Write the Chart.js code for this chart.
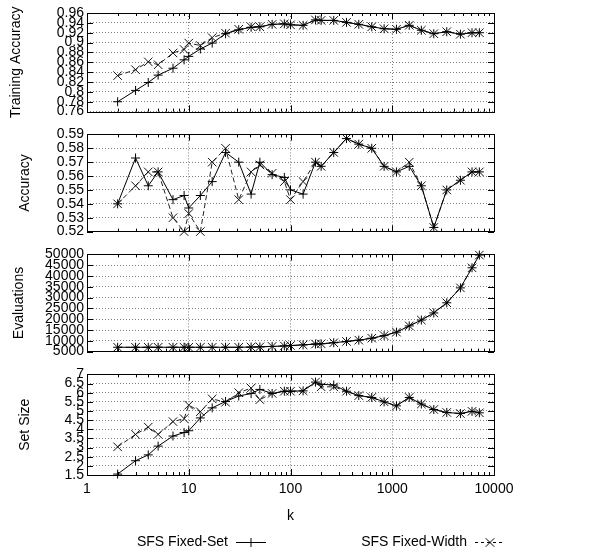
<!DOCTYPE html>
<html>
<head>
<meta charset="utf-8">
<script src="https://cdn.jsdelivr.net/npm/chart.js@4.4.1/dist/chart.umd.min.js"></script>
<style>
  html, body { margin: 0; padding: 0; background: #fff; }
  #wrap { position: relative; width: 605px; height: 553px; }
  #wrap canvas { position: absolute; left: 0; }
</style>
</head>
<body>
<div id="wrap">
  <canvas id="c1" width="605" height="123" style="top:0px"></canvas>
  <canvas id="c2" width="605" height="120" style="top:123px"></canvas>
  <canvas id="c3" width="605" height="120" style="top:243px"></canvas>
  <canvas id="c4" width="605" height="190" style="top:363px"></canvas>
</div>
<script>
// k values (shared x positions)
const kValues = [2, 3, 4, 5, 7, 9, 10, 13, 17, 23, 31, 41, 50, 66, 87, 100, 133, 176, 200, 266,
    355, 469, 629, 832, 1100, 1469, 1932, 2560, 3433, 4676, 6080, 7180];
const kTicks = [1, 10, 100, 1000, 10000];

// Training Accuracy
const trainSet = [0.780, 0.803, 0.819, 0.834, 0.848, 0.865, 0.872, 0.887, 0.899, 0.918, 0.926, 0.931,
    0.932, 0.937, 0.938, 0.936, 0.935, 0.946, 0.945, 0.945, 0.941, 0.937, 0.932, 0.928, 0.927, 0.935,
    0.925, 0.918, 0.922, 0.917, 0.920, 0.920];
const trainWidth = [0.833, 0.845, 0.861, 0.855, 0.879, 0.886, 0.899, 0.894, 0.910, 0.919, 0.927, 0.932,
    0.932, 0.937, 0.938, 0.936, 0.935, 0.946, 0.945, 0.945, 0.941, 0.937, 0.932, 0.928, 0.927, 0.935,
    0.925, 0.918, 0.922, 0.917, 0.920, 0.920];
const trainTicks = [0.76, 0.78, 0.8, 0.82, 0.84, 0.86, 0.88, 0.9, 0.92, 0.94, 0.96];

// Accuracy
const accSet = [0.540, 0.573, 0.553, 0.563, 0.543, 0.546, 0.537, 0.546, 0.556, 0.577, 0.570, 0.547,
    0.570, 0.561, 0.559, 0.550, 0.547, 0.570, 0.567, 0.577, 0.587, 0.583, 0.580, 0.567, 0.563, 0.567,
    0.553, 0.523, 0.550, 0.557, 0.563, 0.563];
const accWidth = [0.540, 0.553, 0.563, 0.563, 0.530, 0.520, 0.533, 0.520, 0.570, 0.580, 0.543, 0.563,
    0.568, 0.562, 0.556, 0.543, 0.556, 0.570, 0.567, 0.577, 0.587, 0.583, 0.580, 0.567, 0.563, 0.570,
    0.553, 0.523, 0.550, 0.557, 0.563, 0.563];
const accTicks = [0.52, 0.53, 0.54, 0.55, 0.56, 0.57, 0.58, 0.59];

// Evaluations
const evalSet = [7000, 7000, 7000, 7000, 7000, 7000, 7000, 7000, 7000, 7000, 7000, 7100, 7200, 7400,
    7600, 7800, 8100, 8500, 8600, 9100, 9700, 10300, 11200, 12400, 14000, 16900, 19600, 22900, 27600,
    34500, 43800, 49700];
const evalWidth = [7000, 7000, 7000, 7000, 7000, 7000, 7000, 7000, 7000, 7000, 7000, 7100, 7200, 7400,
    7600, 7800, 8100, 8500, 8600, 9100, 9700, 10300, 11200, 12400, 14000, 16900, 19600, 22900, 27600,
    34500, 43800, 49700];
const evalTicks = [5000, 10000, 15000, 20000, 25000, 30000, 35000, 40000, 45000, 50000];

// Set Size
const sizeSet = [1.55, 2.28, 2.60, 3.08, 3.63, 3.82, 3.92, 4.62, 5.17, 5.52, 5.82, 5.95, 6.18, 5.96,
    6.08, 6.08, 6.10, 6.58, 6.46, 6.42, 6.08, 5.84, 5.74, 5.50, 5.28, 5.74, 5.38, 5.08, 4.92, 4.86,
    4.98, 4.90];
const sizeWidth = [3.04, 3.72, 4.12, 3.72, 4.42, 4.58, 5.32, 4.96, 5.66, 5.48, 6.00, 6.25, 5.62, 5.96,
    6.08, 6.08, 6.10, 6.58, 6.32, 6.32, 6.08, 5.84, 5.74, 5.50, 5.28, 5.74, 5.38, 5.08, 4.92, 4.86,
    4.98, 4.90];
const sizeTicks = [1.5, 2, 2.5, 3, 3.5, 4, 4.5, 5, 5.5, 6, 6.5, 7];

const seriesNames = ['SFS Fixed-Set', 'SFS Fixed-Width'];

Chart.defaults.font.family = '"Liberation Sans", Arial, sans-serif';
Chart.defaults.font.size = 14;
Chart.defaults.color = '#000';

const PLOT_LEFT = 87;
const PLOT_RIGHT = 494;

function makeDatasets(setVals, widthVals) {
    return [
        {
            label: seriesNames[0],
            data: kValues.map((k, i) => ({ x: k, y: setVals[i] })),
            borderColor: '#000',
            borderWidth: 1,
            pointStyle: 'cross',
            pointRadius: 4.5,
            pointBorderColor: '#000',
            pointBorderWidth: 1,
            fill: false,
            clip: false,
        },
        {
            label: seriesNames[1],
            data: kValues.map((k, i) => ({ x: k, y: widthVals[i] })),
            borderColor: '#222',
            borderWidth: 1,
            borderDash: [5, 3],
            pointStyle: 'crossRot',
            pointRadius: 6,
            pointBorderColor: '#111',
            pointBorderWidth: 1,
            fill: false,
            clip: false,
        },
    ];
}

// frame + inward tick marks, gnuplot style
const framePlugin = {
    id: 'frame',
    afterDatasetsDraw(chart) {
        const { ctx, chartArea: a, scales } = chart;
        ctx.save();
        ctx.strokeStyle = '#000';
        ctx.lineWidth = 1;
        ctx.setLineDash([]);
        ctx.beginPath();
        // y ticks, left & right
        scales.y.ticks.forEach(t => {
            const py = Math.round(scales.y.getPixelForValue(t.value)) + 0.5;
            ctx.moveTo(a.left, py); ctx.lineTo(a.left + 6, py);
            ctx.moveTo(a.right, py); ctx.lineTo(a.right - 6, py);
        });
        // x major and minor ticks, top & bottom
        for (let d = 1; d < 10000; d *= 10) {
            for (let m = 1; m <= 10; m++) {
                const px = Math.round(scales.x.getPixelForValue(d * m)) + 0.5;
                const len = (m === 1 || m === 10) ? 6 : 3;
                ctx.moveTo(px, a.bottom); ctx.lineTo(px, a.bottom - len);
                ctx.moveTo(px, a.top); ctx.lineTo(px, a.top + len);
            }
        }
        ctx.stroke();
        ctx.strokeRect(Math.round(a.left) + 0.5, Math.round(a.top) + 0.5,
            Math.round(a.right - a.left), Math.round(a.bottom - a.top));
        ctx.restore();
    },
};

// legend below the bottom panel: text, then line sample
const legendPlugin = {
    id: 'bottomLegend',
    afterDraw(chart) {
        const { ctx } = chart;
        const y = 179;
        const items = [
            { textRight: 228, x0: 236, x1: 266, ds: chart.data.datasets[0], dash: [] },
            { textRight: 467, x0: 475, x1: 505, ds: chart.data.datasets[1], dash: [3, 3] },
        ];
        ctx.save();
        ctx.font = '14px "Liberation Sans", Arial, sans-serif';
        ctx.fillStyle = '#000';
        ctx.textAlign = 'right';
        ctx.textBaseline = 'middle';
        items.forEach(it => {
            ctx.fillText(it.ds.label, it.textRight, y);
            ctx.strokeStyle = '#000';
            ctx.lineWidth = 1;
            ctx.setLineDash(it.dash);
            ctx.beginPath();
            ctx.moveTo(it.x0, y + 0.5); ctx.lineTo(it.x1, y + 0.5);
            ctx.stroke();
            ctx.setLineDash([]);
            Chart.helpers.drawPoint(ctx, {
                pointStyle: it.ds.pointStyle,
                radius: it.ds.pointRadius,
                borderWidth: 1,
                rotation: 0,
            }, (it.x0 + it.x1) / 2, y + 0.5);
        });
        ctx.restore();
    },
};

function makeChart(id, opts) {
    const isBottom = !!opts.bottom;
    return new Chart(document.getElementById(id), {
        type: 'line',
        data: { datasets: makeDatasets(opts.setVals, opts.widthVals) },
        options: {
            responsive: false,
            animation: false,
            layout: { padding: { top: opts.padTop, bottom: isBottom ? 26 : 0, left: 0, right: 605 - PLOT_RIGHT } },
            plugins: { legend: { display: false }, tooltip: { enabled: false } },
            scales: {
                x: {
                    type: 'logarithmic',
                    min: 1,
                    max: 10000,
                    afterBuildTicks: (scale) => { scale.ticks = kTicks.map(v => ({ value: v, major: true })); },
                    afterFit: (scale) => { scale.height = isBottom ? 52 : opts.xHeight; },
                    grid: { color: 'rgba(0,0,0,0.5)', drawTicks: false, lineWidth: 1 },
                    border: { display: false, dash: [1, 2] },
                    ticks: {
                        display: isBottom,
                        autoSkip: false,
                        maxRotation: 0,
                        padding: 6,
                        callback: (v) => String(v),
                    },
                    title: { display: isBottom, text: 'k', padding: { top: 0, bottom: 2 } },
                },
                y: {
                    min: opts.ticks[0],
                    max: opts.ticks[opts.ticks.length - 1],
                    afterBuildTicks: (scale) => { scale.ticks = opts.ticks.map(v => ({ value: v })); },
                    afterFit: (scale) => { scale.width = PLOT_LEFT; },
                    grid: { color: 'rgba(0,0,0,0.5)', drawTicks: false, lineWidth: 1 },
                    border: { display: false, dash: [1, 2] },
                    ticks: {
                        autoSkip: false,
                        padding: 3,
                        callback: (v) => String(+Number(v).toFixed(2)),
                    },
                    title: { display: true, text: opts.title, padding: { top: opts.titlePad, bottom: 0 } },
                },
            },
        },
        plugins: isBottom ? [framePlugin, legendPlugin] : [framePlugin],
    });
}

makeChart('c1', { setVals: trainSet, widthVals: trainWidth, ticks: trainTicks, title: 'Training Accuracy', padTop: 13, xHeight: 9, titlePad: 8 });
makeChart('c2', { setVals: accSet, widthVals: accWidth, ticks: accTicks, title: 'Accuracy', padTop: 9, xHeight: 8, titlePad: 17 });
makeChart('c3', { setVals: evalSet, widthVals: evalWidth, ticks: evalTicks, title: 'Evaluations', padTop: 10, xHeight: 8, titlePad: 11 });
makeChart('c4', { setVals: sizeSet, widthVals: sizeWidth, ticks: sizeTicks, title: 'Set Size', padTop: 9, xHeight: 0, titlePad: 17, bottom: true });
</script>
</body>
</html>
